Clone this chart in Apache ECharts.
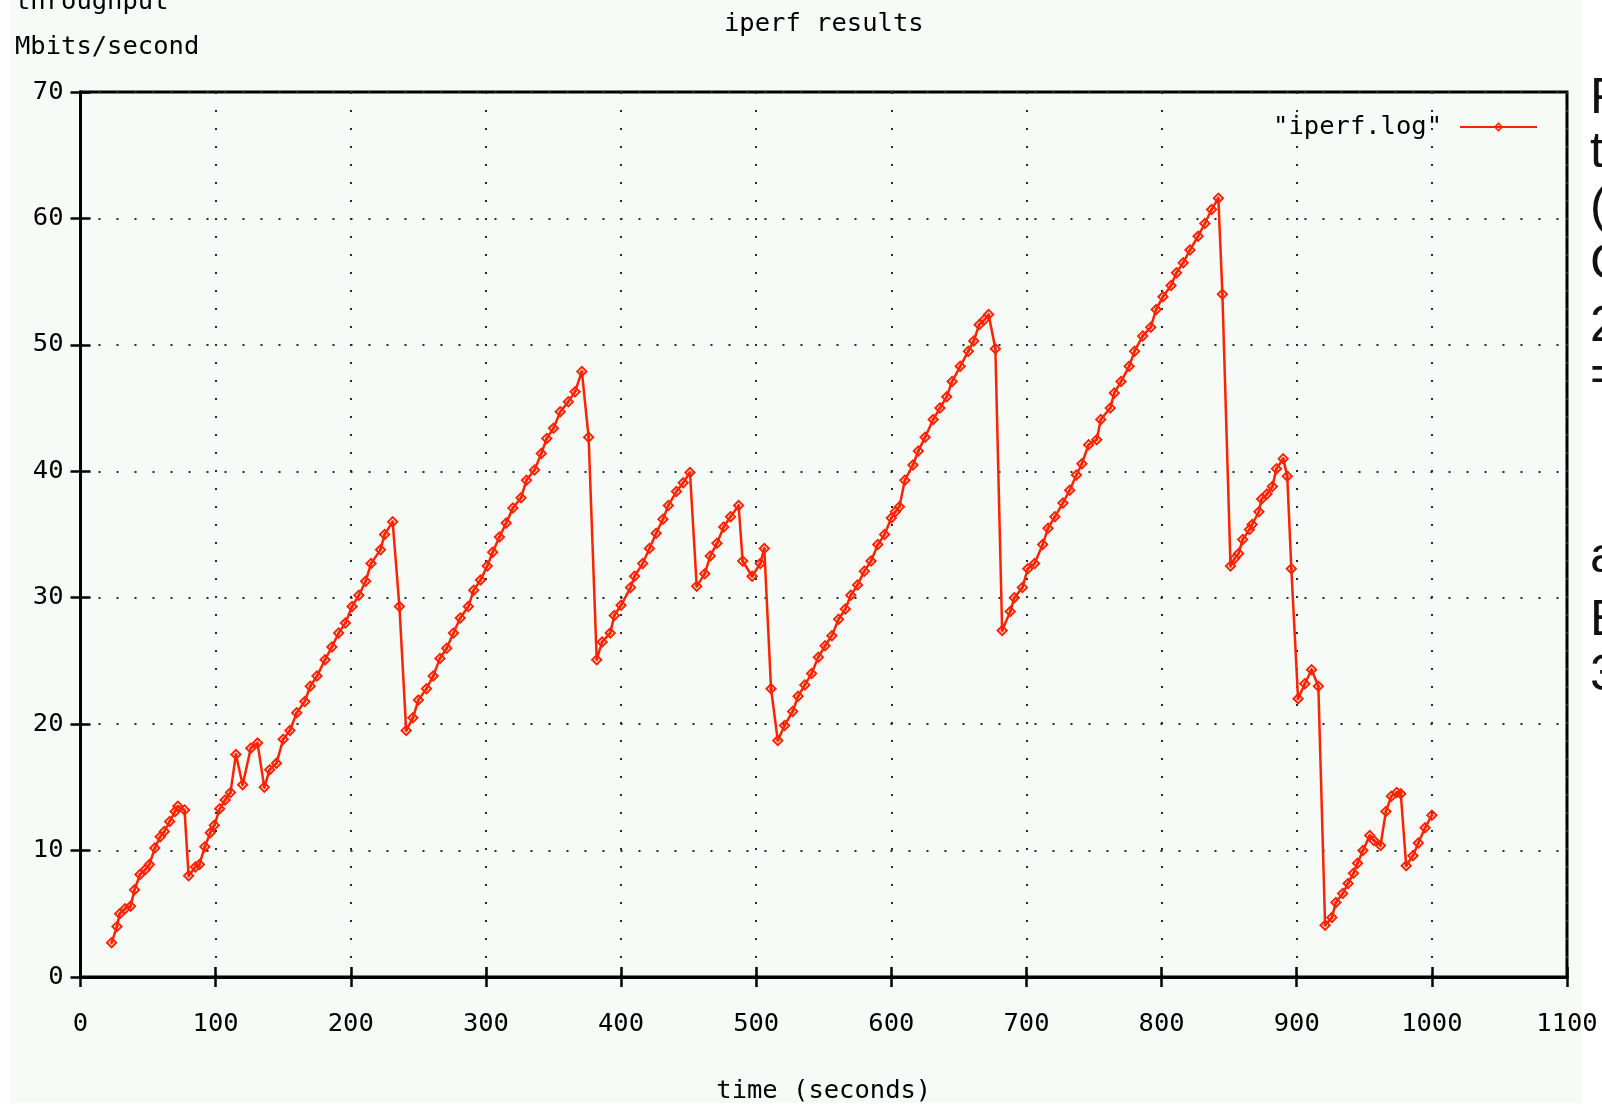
<!DOCTYPE html>
<html>
<head>
<meta charset="utf-8">
<title>iperf results</title>
<script src="https://cdn.jsdelivr.net/npm/echarts@6/dist/echarts.min.js"></script>
<style>
  html, body { margin: 0; padding: 0; background: #ffffff; overflow: hidden; }
  #chart { width: 1602px; height: 1105px; }
</style>
</head>
<body>
<div id="chart"></div>
<script>
// Sample times (seconds) from the iperf log
const times = [
  23, 27, 29, 33, 37, 40, 44, 48, 51, 55, 59, 62, 66, 70, 72, 77, 80, 85, 88, 92,
  96, 99, 103, 107, 111, 115, 120, 126, 131, 136, 140, 145, 150, 155, 160, 166, 170, 175, 181, 186,
  191, 196, 201, 206, 211, 215, 222, 225, 231, 236, 241, 246, 250, 256, 261, 266, 271, 276, 281, 287,
  291, 296, 301, 305, 310, 315, 320, 326, 330, 336, 341, 345, 350, 355, 361, 366, 371, 376, 382, 386,
  392, 395, 400, 407, 410, 416, 421, 426, 431, 435, 441, 446, 451, 456, 462, 466, 471, 476, 481, 487,
  490, 497, 503, 506, 511, 516, 521, 527, 531, 536, 541, 546, 551, 556, 561, 566, 570, 575, 580, 585,
  590, 595, 600, 603, 606, 610, 616, 620, 625, 631, 636, 641, 645, 651, 657, 661, 665, 669, 672, 677,
  682, 688, 691, 697, 701, 706, 712, 716, 721, 727, 732, 737, 741, 746, 752, 755, 762, 765, 770, 776,
  780, 786, 792, 796, 801, 807, 811, 816, 821, 827, 832, 837, 842, 845, 851, 854, 857, 860, 865, 867,
  872, 874, 878, 882, 885, 890, 893, 896, 901, 906, 911, 916, 921, 926, 929, 934, 938, 942, 945, 949,
  954, 957, 962, 966, 970, 974, 977, 981, 986, 990, 995, 1000
];

// Measured throughput (Mbits/second) at each sample time
const throughput = [
  2.7, 4.0, 5.0, 5.4, 5.6, 6.9, 8.1, 8.5, 8.9, 10.2, 11.1, 11.5, 12.3, 13.1, 13.5, 13.2, 8.0, 8.7, 8.9, 10.3,
  11.4, 12.0, 13.3, 14.0, 14.6, 17.6, 15.2, 18.1, 18.5, 15.0, 16.4, 16.9, 18.8, 19.5, 20.9, 21.8, 23.0, 23.8, 25.1, 26.1,
  27.2, 28.0, 29.3, 30.2, 31.3, 32.7, 33.8, 35.0, 36.0, 29.3, 19.5, 20.5, 21.9, 22.8, 23.8, 25.2, 26.0, 27.2, 28.4, 29.3,
  30.6, 31.4, 32.5, 33.6, 34.8, 35.9, 37.1, 37.9, 39.3, 40.1, 41.4, 42.6, 43.4, 44.7, 45.5, 46.3, 47.9, 42.7, 25.1, 26.5,
  27.2, 28.6, 29.4, 30.8, 31.7, 32.7, 33.9, 35.1, 36.2, 37.3, 38.4, 39.1, 39.9, 30.9, 31.9, 33.3, 34.3, 35.6, 36.4, 37.3,
  32.9, 31.7, 32.7, 33.9, 22.8, 18.7, 19.9, 21.0, 22.2, 23.1, 24.0, 25.3, 26.2, 27.0, 28.3, 29.1, 30.2, 31.0, 32.1, 32.9,
  34.2, 35.0, 36.3, 36.8, 37.2, 39.3, 40.5, 41.6, 42.7, 44.1, 45.0, 45.9, 47.1, 48.3, 49.5, 50.3, 51.6, 52.0, 52.4, 49.7,
  27.4, 28.9, 30.0, 30.8, 32.3, 32.7, 34.2, 35.5, 36.4, 37.5, 38.5, 39.7, 40.6, 42.1, 42.5, 44.1, 45.0, 46.2, 47.1, 48.3,
  49.5, 50.7, 51.4, 52.8, 53.8, 54.7, 55.7, 56.5, 57.5, 58.6, 59.6, 60.7, 61.6, 54.0, 32.5, 33.1, 33.5, 34.6, 35.4, 35.8,
  36.8, 37.8, 38.2, 38.8, 40.2, 41.0, 39.6, 32.3, 22.0, 23.2, 24.3, 23.0, 4.1, 4.7, 5.9, 6.6, 7.4, 8.2, 9.0, 10.0,
  11.2, 10.8, 10.4, 13.1, 14.3, 14.6, 14.5, 8.8, 9.6, 10.6, 11.8, 12.8
];

// Side note text lines at the right edge of the page
const sideLines = ['F', 't', '(', 'C', '2', '=', 'a', 'E', '3'];
const sideBaselines = [124, 178, 233, 290, 352, 401, 583, 646, 701];

const seriesName = '"iperf.log"';
const mono = '"DejaVu Sans Mono", monospace';
const red = '#ff2200';
const ink = '#000000';
const fontPx = 25.5;

// Hollow diamond with a small cross: gnuplot-style point marker
const diamondMark = 'path://M5 0L10 5L5 10L0 5Z M5 2.3L2.3 5L5 7.7L7.7 5Z ' +
  'M4.4 3.6H5.6V4.4H6.4V5.6H5.6V6.4H4.4V5.6H3.6V4.4H4.4Z';

const points = times.map((t, i) => [t, throughput[i]]);

const chart = echarts.init(document.getElementById('chart'), null, { renderer: 'canvas' });

const gridDots = { color: '#2a2a2a', width: 2, type: [2, 16] };
const tickStyle = { show: true, inside: true, length: 10, lineStyle: { color: ink, width: 2.5 } };
const plain = v => String(v);

const graphic = [
  { type: 'rect', z: -10, shape: { x: 10, y: 0, width: 1572, height: 1103 },
    style: { fill: '#f7fbf7' }, silent: true },
  { type: 'text', left: 15, top: -11, style: { text: 'throughput', font: fontPx + 'px ' + mono, fill: ink } },
  { type: 'text', left: 15, top: 34, style: { text: 'Mbits/second', font: fontPx + 'px ' + mono, fill: ink } }
];
sideLines.forEach((s, i) => {
  graphic.push({
    type: 'text', x: 1590, y: sideBaselines[i],
    style: { text: s, font: '50px "Liberation Sans", Arial, sans-serif', fill: '#111', textVerticalAlign: 'bottom' }
  });
});

chart.setOption({
  animation: false,
  backgroundColor: 'transparent',
  title: {
    text: 'iperf results', left: 724, top: 11, padding: 0,
    textStyle: { fontFamily: mono, fontSize: fontPx, fontWeight: 'normal', color: ink }
  },
  legend: {
    data: [seriesName], right: 64, top: 114, align: 'right', padding: 0,
    itemWidth: 77, itemHeight: 12,
    textStyle: { fontFamily: mono, fontSize: fontPx, lineHeight: 26, color: ink, padding: [0, 13, 0, 0] }
  },
  grid: {
    left: 80.5, right: 35, top: 92, bottom: 128,
    outerBoundsMode: 'none', containLabel: false,
    show: true, borderColor: ink, borderWidth: 3
  },
  xAxis: [
    {
      type: 'value', min: 0, max: 1100, interval: 100,
      name: 'time (seconds)', nameLocation: 'middle', nameGap: 101,
      nameTextStyle: { fontFamily: mono, fontSize: fontPx, color: ink },
      axisLine: { show: true, lineStyle: { color: ink, width: 3 } },
      axisTick: tickStyle,
      axisLabel: { fontFamily: mono, fontSize: fontPx, color: ink, margin: 34, formatter: plain },
      splitLine: { show: true, lineStyle: gridDots }
    },
    {
      type: 'value', position: 'top', min: 0, max: 1100, interval: 100,
      axisLine: { show: true, lineStyle: { color: ink, width: 3 } },
      axisTick: tickStyle, axisLabel: { show: false }, splitLine: { show: false }
    }
  ],
  yAxis: [
    {
      type: 'value', min: 0, max: 70, interval: 10,
      axisLine: { show: true, lineStyle: { color: ink, width: 3 } },
      axisTick: tickStyle,
      axisLabel: { fontFamily: mono, fontSize: fontPx, color: ink, margin: 17, formatter: plain },
      splitLine: { show: true, lineStyle: gridDots }
    },
    {
      type: 'value', position: 'right', min: 0, max: 70, interval: 10,
      axisLine: { show: true, lineStyle: { color: ink, width: 3 } },
      axisTick: tickStyle, axisLabel: { show: false }, splitLine: { show: false }
    }
  ],
  graphic: graphic,
  series: [{
    name: seriesName,
    type: 'line',
    data: points,
    showAllSymbol: true,
    symbol: diamondMark,
    symbolSize: 12,
    lineStyle: { color: red, width: 2.5 },
    itemStyle: { color: red, borderWidth: 0 },
    emphasis: { disabled: true }
  }]
});
</script>
</body>
</html>
